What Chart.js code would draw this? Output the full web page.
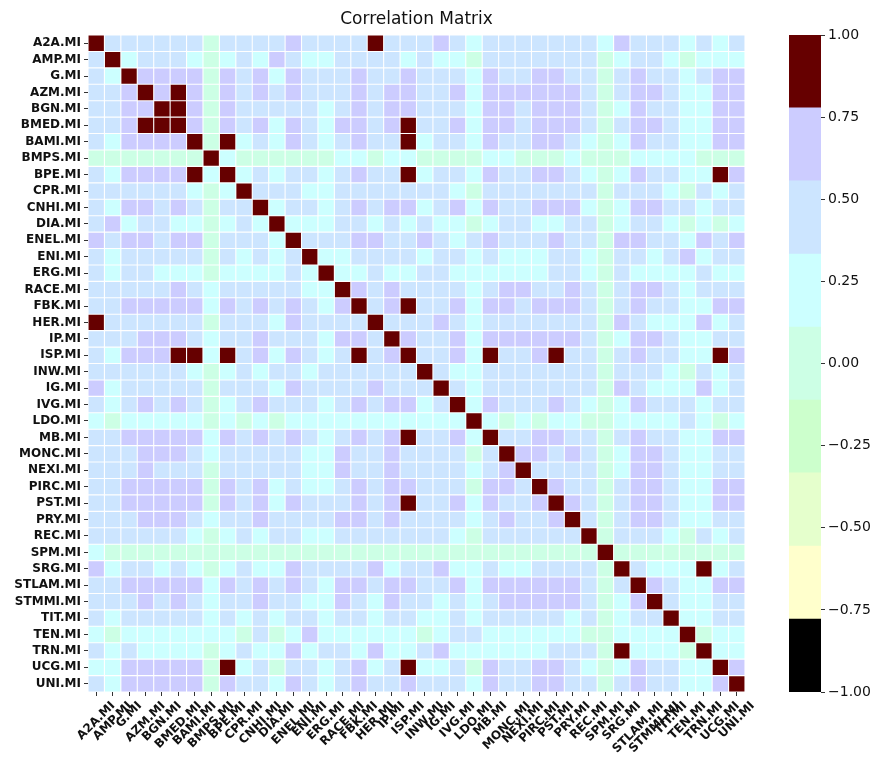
<!DOCTYPE html>
<html>
<head>
<meta charset="utf-8">
<script src="https://cdn.jsdelivr.net/npm/chart.js@4.4.1/dist/chart.umd.min.js"></script>
<style>
  body { margin: 0; background: #fff; }
  #wrap { position: relative; width: 877px; height: 758px; }
  canvas { position: absolute; top: 0; }
  #main { left: 0; }
  #cbar { left: 760px; }
</style>
</head>
<body>
<div id="wrap">
  <canvas id="main" width="877" height="758"></canvas>
  <canvas id="cbar" width="117" height="758"></canvas>
</div>
<script>
/* correlation heatmap */

const names = ['A2A.MI', 'AMP.MI', 'G.MI', 'AZM.MI', 'BGN.MI', 'BMED.MI', 'BAMI.MI', 'BMPS.MI', 'BPE.MI', 'CPR.MI',
    'CNHI.MI', 'DIA.MI', 'ENEL.MI', 'ENI.MI', 'ERG.MI', 'RACE.MI', 'FBK.MI', 'HER.MI', 'IP.MI', 'ISP.MI',
    'INW.MI', 'IG.MI', 'IVG.MI', 'LDO.MI', 'MB.MI', 'MONC.MI', 'NEXI.MI', 'PIRC.MI', 'PST.MI', 'PRY.MI',
    'REC.MI', 'SPM.MI', 'SRG.MI', 'STLAM.MI', 'STMMI.MI', 'TIT.MI', 'TEN.MI', 'TRN.MI', 'UCG.MI', 'UNI.MI'];

// colour bins of the colorbar (9 equal steps from -1 to 1)
const binEdges = [-1, -0.778, -0.556, -0.333, -0.111, 0.111, 0.333, 0.556, 0.778, 1];
const binColors = ['#000000', '#ffffcc', '#e5ffcc', '#ccffcc', '#ccffe5', '#ccffff', '#cce5ff', '#ccccff', '#660000'];
const cbarTicks = [-1, -0.75, -0.5, -0.25, 0, 0.25, 0.5, 0.75, 1];

// rows of the matrix
const corr = [
    [1,.45,.45,.45,.45,.45,.45,.02,.45,.45,.45,.45,.66,.45,.45,.45,.45,.88,.45,.45,.45,.66,.45,.22,.45,.45,.45,.45,.45,.45,.45,.22,.66,.45,.45,.45,.22,.45,.22,.45],
    [.45,1,.22,.45,.45,.45,.22,.02,.22,.45,.22,.66,.45,.22,.22,.45,.45,.45,.45,.22,.45,.22,.22,.02,.45,.45,.45,.45,.45,.45,.45,.02,.22,.45,.45,.22,.02,.22,.22,.22],
    [.45,.22,1,.66,.66,.66,.66,.02,.66,.45,.66,.22,.66,.45,.45,.45,.66,.45,.45,.66,.45,.45,.45,.22,.66,.45,.45,.66,.66,.45,.45,.02,.45,.66,.45,.45,.22,.45,.66,.66],
    [.45,.45,.66,1,.66,.88,.66,.02,.66,.45,.66,.45,.66,.45,.45,.45,.66,.45,.66,.66,.45,.45,.66,.22,.66,.66,.66,.66,.66,.66,.45,.02,.45,.66,.66,.45,.22,.22,.66,.66],
    [.45,.45,.66,.66,1,.88,.66,.02,.66,.45,.45,.45,.45,.45,.22,.45,.66,.45,.66,.66,.45,.45,.45,.22,.66,.66,.45,.66,.66,.66,.45,.02,.22,.66,.45,.45,.22,.22,.66,.66],
    [.45,.45,.66,.88,.88,1,.66,.02,.66,.45,.66,.22,.66,.45,.22,.66,.66,.45,.66,.88,.45,.45,.66,.22,.66,.66,.45,.66,.66,.66,.45,.02,.45,.66,.66,.45,.22,.22,.66,.66],
    [.45,.22,.66,.66,.66,.66,1,.02,.88,.22,.45,.22,.66,.45,.22,.45,.66,.45,.45,.88,.22,.45,.45,.22,.66,.45,.45,.66,.66,.45,.22,.02,.22,.66,.45,.45,.22,.22,.66,.66],
    [.02,.02,.02,.02,.02,.02,.02,1,.22,.02,.02,.02,.02,.02,.02,.22,.22,.02,.22,.22,.02,.02,.02,.02,.22,.22,.02,.02,.02,.22,.02,.02,.02,.22,.22,.22,.22,.02,.02,.02],
    [.45,.22,.66,.66,.66,.66,.88,.22,1,.22,.45,.22,.45,.45,.22,.45,.66,.45,.45,.88,.22,.45,.45,.22,.66,.45,.45,.66,.66,.45,.22,.02,.22,.66,.45,.45,.22,.22,.88,.66],
    [.45,.45,.45,.45,.45,.45,.22,.02,.22,1,.45,.45,.45,.22,.22,.45,.45,.45,.45,.45,.45,.45,.22,.02,.45,.45,.45,.45,.45,.45,.45,.02,.45,.45,.45,.22,.02,.45,.22,.45],
    [.45,.22,.66,.66,.45,.66,.45,.02,.45,.45,1,.22,.45,.45,.22,.45,.66,.45,.66,.66,.22,.45,.66,.22,.66,.45,.45,.66,.66,.66,.22,.02,.22,.66,.66,.45,.45,.22,.45,.45],
    [.45,.66,.22,.45,.45,.22,.22,.02,.22,.45,.22,1,.22,.22,.22,.45,.45,.22,.45,.22,.45,.22,.22,.02,.22,.45,.45,.22,.22,.45,.45,.02,.22,.45,.45,.22,.02,.22,.02,.22],
    [.66,.45,.66,.66,.45,.66,.66,.02,.45,.45,.45,.22,1,.45,.45,.45,.66,.66,.45,.45,.66,.45,.22,.45,.66,.45,.45,.45,.66,.45,.45,.02,.66,.66,.45,.45,.22,.66,.45,.66],
    [.45,.22,.45,.45,.45,.45,.45,.02,.45,.22,.45,.22,.45,1,.22,.22,.45,.45,.45,.45,.22,.45,.45,.22,.45,.22,.22,.22,.45,.45,.22,.02,.45,.45,.22,.45,.66,.22,.45,.45],
    [.45,.22,.45,.45,.22,.22,.22,.02,.22,.22,.22,.22,.45,.22,1,.22,.22,.45,.22,.22,.45,.45,.22,.22,.22,.22,.22,.22,.45,.45,.22,.02,.45,.22,.22,.22,.22,.45,.22,.22],
    [.45,.45,.45,.45,.45,.66,.45,.22,.45,.45,.45,.45,.45,.22,.22,1,.66,.45,.66,.45,.45,.45,.45,.22,.45,.66,.66,.45,.45,.66,.45,.02,.45,.66,.66,.45,.22,.45,.45,.45],
    [.45,.45,.66,.66,.66,.66,.66,.22,.66,.45,.66,.45,.66,.45,.22,.66,1,.45,.66,.88,.45,.45,.66,.22,.66,.66,.45,.66,.66,.66,.45,.02,.45,.66,.45,.45,.22,.22,.66,.66],
    [.88,.45,.45,.45,.45,.45,.45,.02,.45,.45,.45,.22,.66,.45,.45,.45,.45,1,.45,.45,.45,.66,.45,.22,.45,.45,.45,.45,.45,.45,.45,.02,.66,.45,.22,.22,.22,.66,.22,.45],
    [.45,.45,.45,.66,.66,.66,.45,.22,.45,.45,.66,.45,.45,.45,.22,.66,.66,.45,1,.66,.45,.45,.66,.22,.66,.66,.66,.66,.66,.66,.45,.02,.22,.66,.66,.45,.22,.22,.45,.45],
    [.45,.22,.66,.66,.66,.88,.88,.22,.88,.45,.66,.22,.66,.45,.22,.45,.88,.45,.66,1,.45,.45,.66,.22,.88,.45,.45,.66,.88,.45,.45,.02,.45,.66,.45,.45,.22,.22,.88,.66],
    [.45,.45,.45,.45,.45,.45,.22,.02,.22,.45,.22,.45,.45,.22,.45,.45,.45,.45,.45,.45,1,.45,.22,.22,.45,.45,.45,.45,.45,.45,.45,.02,.45,.45,.45,.22,.02,.45,.22,.45],
    [.66,.22,.45,.45,.45,.45,.45,.02,.45,.45,.45,.22,.66,.45,.45,.45,.45,.66,.45,.45,.45,1,.45,.22,.45,.45,.45,.45,.45,.45,.45,.02,.66,.45,.22,.22,.22,.66,.22,.45],
    [.45,.22,.45,.66,.45,.66,.45,.02,.22,.45,.66,.45,.45,.45,.22,.45,.66,.45,.66,.66,.22,.45,1,.22,.66,.45,.45,.45,.66,.45,.22,.02,.22,.66,.45,.45,.45,.22,.45,.45],
    [.22,.02,.22,.22,.22,.22,.22,.02,.22,.02,.22,.02,.22,.22,.22,.22,.22,.22,.22,.22,.22,.22,.22,1,.22,.02,.22,.02,.22,.22,.02,.02,.22,.22,.22,.22,.45,.22,.02,.22],
    [.45,.45,.66,.66,.66,.66,.66,.22,.66,.45,.66,.45,.66,.45,.22,.45,.66,.45,.66,.88,.45,.45,.66,.22,1,.45,.45,.66,.66,.45,.45,.02,.45,.66,.45,.45,.22,.22,.66,.66],
    [.45,.45,.45,.66,.66,.66,.45,.22,.45,.45,.45,.45,.45,.22,.22,.66,.45,.45,.66,.45,.45,.45,.45,.02,.45,1,.66,.66,.45,.66,.45,.02,.22,.66,.66,.45,.22,.22,.45,.45],
    [.45,.45,.45,.66,.45,.45,.45,.02,.45,.45,.45,.45,.45,.22,.22,.66,.45,.45,.66,.45,.45,.45,.45,.22,.45,.66,1,.45,.45,.45,.45,.02,.22,.66,.66,.45,.22,.22,.45,.45],
    [.45,.45,.66,.66,.66,.66,.66,.02,.66,.45,.66,.22,.45,.22,.22,.45,.66,.45,.66,.66,.45,.45,.45,.02,.66,.66,.45,1,.66,.45,.45,.02,.45,.66,.66,.45,.22,.22,.66,.66],
    [.45,.45,.66,.66,.66,.66,.66,.02,.66,.45,.66,.22,.66,.45,.45,.45,.66,.45,.66,.88,.45,.45,.66,.22,.66,.45,.45,.66,1,.66,.45,.02,.45,.66,.66,.45,.22,.22,.66,.66],
    [.45,.45,.45,.66,.66,.66,.45,.22,.45,.45,.66,.45,.45,.45,.45,.66,.66,.45,.66,.45,.45,.45,.45,.22,.45,.66,.45,.45,.66,1,.45,.02,.45,.66,.66,.45,.22,.22,.45,.45],
    [.45,.45,.45,.45,.45,.45,.22,.02,.22,.45,.22,.45,.45,.22,.22,.45,.45,.45,.45,.45,.45,.45,.22,.02,.45,.45,.45,.45,.45,.45,1,.02,.45,.45,.45,.22,.02,.45,.22,.45],
    [.22,.02,.02,.02,.02,.02,.02,.02,.02,.02,.02,.02,.02,.02,.02,.02,.02,.02,.02,.02,.02,.02,.02,.02,.02,.02,.02,.02,.02,.02,.02,1,.02,.02,.02,.02,.02,.02,.02,.02],
    [.66,.22,.45,.45,.22,.45,.22,.02,.22,.45,.22,.22,.66,.45,.45,.45,.45,.66,.22,.45,.45,.66,.22,.22,.45,.22,.22,.45,.45,.45,.45,.02,1,.45,.22,.22,.22,.88,.22,.45],
    [.45,.45,.66,.66,.66,.66,.66,.22,.66,.45,.66,.45,.66,.45,.22,.66,.66,.45,.66,.66,.45,.45,.66,.22,.66,.66,.66,.66,.66,.66,.45,.02,.45,1,.66,.45,.22,.22,.66,.66],
    [.45,.45,.45,.66,.45,.66,.45,.22,.45,.45,.66,.45,.45,.22,.22,.66,.45,.22,.66,.45,.45,.22,.45,.22,.45,.66,.66,.66,.66,.66,.45,.02,.22,.66,1,.45,.22,.22,.45,.45],
    [.45,.22,.45,.45,.45,.45,.45,.22,.45,.22,.45,.22,.45,.45,.22,.45,.45,.22,.45,.45,.22,.22,.45,.22,.45,.45,.45,.45,.45,.22,.45,.02,.22,.45,.45,1,.22,.22,.45,.45],
    [.22,.02,.22,.22,.22,.22,.22,.22,.22,.02,.45,.02,.22,.66,.22,.22,.22,.22,.22,.22,.02,.22,.45,.45,.22,.22,.22,.22,.22,.22,.02,.02,.22,.22,.22,.22,1,.02,.22,.22],
    [.45,.22,.45,.22,.22,.22,.22,.02,.22,.45,.22,.22,.66,.22,.45,.45,.22,.66,.22,.22,.45,.66,.22,.22,.22,.22,.22,.22,.45,.45,.45,.02,.88,.22,.22,.22,.02,1,.22,.22],
    [.22,.22,.66,.66,.66,.66,.66,.02,.88,.22,.45,.02,.45,.45,.22,.45,.66,.22,.45,.88,.22,.22,.45,.02,.66,.45,.45,.66,.66,.45,.22,.02,.22,.66,.45,.45,.22,.22,1,.66],
    [.45,.22,.66,.66,.66,.66,.66,.02,.66,.45,.45,.22,.66,.45,.22,.45,.66,.45,.45,.66,.45,.45,.45,.22,.66,.45,.45,.66,.66,.45,.45,.02,.45,.66,.45,.45,.22,.22,.66,1]
];

Chart.defaults.font.family = "'DejaVu Sans', sans-serif";
Chart.defaults.color = '#111';

function colorFor(v) {
    for (let k = 0; k < binColors.length; k++) {
        if (v <= binEdges[k + 1]) return binColors[k];
    }
    return binColors[binColors.length - 1];
}

const cells = [];
names.forEach((rowName, i) => {
    names.forEach((colName, j) => {
        cells.push({ x: colName, y: rowName, v: corr[i][j] });
    });
});

const tickGrid = { drawOnChartArea: false, drawTicks: true, tickLength: 4, color: '#333', lineWidth: 1 };
const labelFont = { size: 12, weight: 'bold' };

// x labels rotated 45deg but centred under their tick (like matplotlib ha='center')
const centeredXLabels = {
    id: 'centeredXLabels',
    afterDraw(chart) {
        const scale = chart.scales.x;
        const ctx = chart.ctx;
        const h = 14;
        ctx.save();
        ctx.font = "bold 12px 'DejaVu Sans', sans-serif";
        ctx.fillStyle = '#111';
        ctx.textAlign = 'center';
        ctx.textBaseline = 'middle';
        names.forEach((n, i) => {
            const x = scale.getPixelForTick(i);
            const w = ctx.measureText(n).width;
            const half = (w + h) * Math.SQRT1_2 / 2;
            ctx.save();
            ctx.translate(x, scale.top + 7 + half);
            ctx.rotate(-Math.PI / 4);
            ctx.fillText(n, 0, 0);
            ctx.restore();
        });
        ctx.restore();
    }
};

new Chart(document.getElementById('main'), {
    type: 'scatter',
    data: {
        datasets: [{
            data: cells,
            pointStyle: 'rect',
            pointBorderWidth: 0,
            // square side = cell size minus a thin white gap
            pointRadius: ctx => {
                const area = ctx.chart.chartArea;
                if (!area) return 8;
                return (area.width / names.length - 1.1) / Math.SQRT2;
            },
            pointBackgroundColor: ctx => colorFor(ctx.raw ? ctx.raw.v : 0)
        }]
    },
    options: {
        responsive: false,
        animation: false,
        events: [],
        layout: { padding: { left: 0, right: 132, top: 0, bottom: 0 } },
        plugins: {
            legend: { display: false },
            tooltip: { enabled: false },
            title: {
                display: true,
                text: 'Correlation Matrix',
                fullSize: false,
                color: '#111',
                font: { size: 17, weight: 'normal' },
                padding: { top: 9, bottom: 5.6 }
            }
        },
        scales: {
            x: {
                type: 'category',
                labels: names,
                offset: true,
                grid: tickGrid,
                border: { display: false },
                ticks: { display: false, autoSkip: false },
                afterFit: s => { s.height = 66; }
            },
            y: {
                type: 'category',
                labels: names,
                offset: true,
                grid: tickGrid,
                border: { display: false },
                ticks: { autoSkip: false, padding: 3, font: labelFont },
                afterFit: s => { s.width = 88; }
            }
        }
    },
    plugins: [centeredXLabels]
});

new Chart(document.getElementById('cbar'), {
    type: 'bar',
    data: {
        labels: ['cbar'],
        datasets: binColors.map((c, k) => ({
            data: [[binEdges[k], binEdges[k + 1]]],
            backgroundColor: c,
            borderWidth: 0,
            barPercentage: 1,
            categoryPercentage: 1
        }))
    },
    options: {
        responsive: false,
        animation: false,
        events: [],
        layout: { padding: { left: 29, right: 0, top: 35, bottom: 66 } },
        plugins: { legend: { display: false }, tooltip: { enabled: false } },
        scales: {
            x: { display: false, stacked: true },
            y: {
                position: 'right',
                min: -1,
                max: 1,
                afterBuildTicks: axis => { axis.ticks = cbarTicks.map(v => ({ value: v })); },
                grid: tickGrid,
                border: { display: false },
                ticks: {
                    padding: 3,
                    font: { size: 14 },
                    callback: v => v.toFixed(2).replace('-', '\u2212')
                },
                afterFit: s => { s.width = 56; }
            }
        }
    }
});
</script>
</body>
</html>
